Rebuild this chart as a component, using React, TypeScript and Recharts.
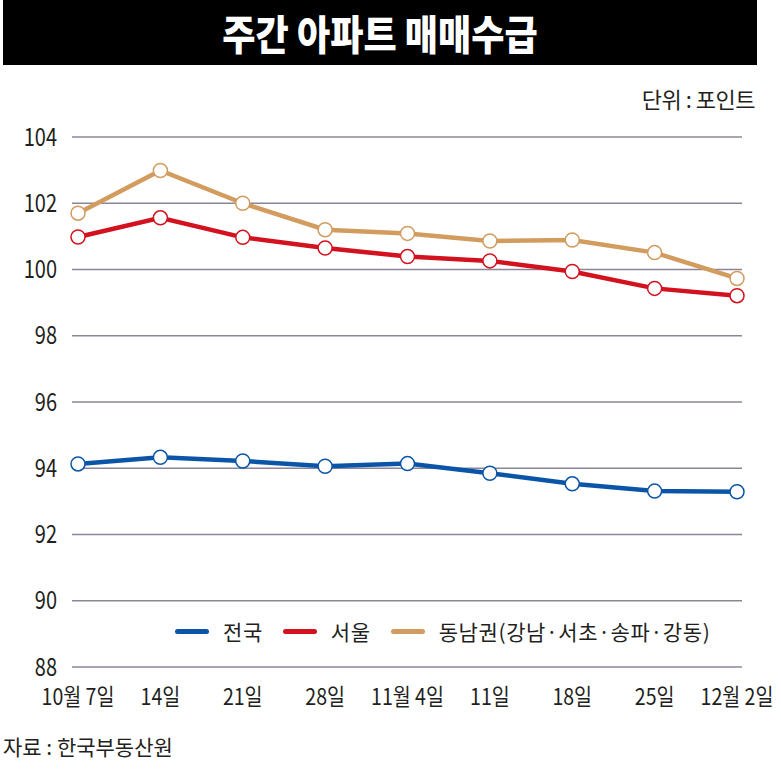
import { CartesianGrid, Line, LineChart, XAxis, YAxis } from "recharts";

const WEEKS = ["10월 7일", "14일", "21일", "28일", "11월 4일", "11일", "18일", "25일", "12월 2일"];
const NATION = [94.13, 94.33, 94.22, 94.06, 94.14, 93.85, 93.53, 93.31, 93.29];
const SEOUL = [100.98, 101.56, 100.97, 100.65, 100.39, 100.26, 99.94, 99.43, 99.21];
const SOUTHEAST = [101.7, 102.99, 102.0, 101.2, 101.09, 100.86, 100.89, 100.51, 99.73];
const Y_TICKS = [88, 90, 92, 94, 96, 98, 100, 102, 104];

const SERIES = [
  { key: "nation", name: "전국", color: "#0b55a8" },
  { key: "seoul", name: "서울", color: "#d2121e" },
  { key: "southeast", name: "동남권(강남·서초·송파·강동)", color: "#d29c5e" },
];

const data = WEEKS.map((week, i) => ({
  week,
  nation: NATION[i],
  seoul: SEOUL[i],
  southeast: SOUTHEAST[i],
}));

const KR = "'Noto Sans CJK KR', sans-serif";
const INK = "#231f20";

// the reference uses a condensed face, so squeeze the tick text a bit
function XTick({ x, y, payload }: any) {
  return (
    <text
      transform={`translate(${x},${y}) scale(0.85,1)`}
      textAnchor="middle"
      dy="0.71em"
      fontSize={23}
      fontFamily={KR}
      fill={INK}
    >
      {payload.value}
    </text>
  );
}

function YTick({ x, y, payload }: any) {
  return (
    <text
      transform={`translate(${x},${y}) scale(0.8,1)`}
      textAnchor="end"
      dy="0.34em"
      fontSize={25}
      fontFamily={KR}
      fill={INK}
    >
      {payload.value}
    </text>
  );
}

function LegendRow() {
  return (
    <div
      style={{
        display: "flex",
        alignItems: "center",
        fontFamily: KR,
        fontSize: 21,
        letterSpacing: 0.6,
        color: INK,
      }}
    >
      {SERIES.map((s) => (
        <div key={s.key} style={{ display: "flex", alignItems: "center", marginRight: 20 }}>
          <span
            style={{
              display: "inline-block",
              width: 34,
              height: 5,
              borderRadius: 3,
              background: s.color,
              marginRight: 14,
            }}
          />
          <span>{s.name}</span>
        </div>
      ))}
    </div>
  );
}

export default function App() {
  return (
    <div style={{ position: "absolute", left: 0, top: 0, width: 781, height: 775, background: "#fff" }}>
      <div
        style={{
          position: "absolute",
          left: 3,
          top: 0,
          width: 754,
          height: 65,
          background: "#000",
        }}
      />
      <div
        style={{
          position: "absolute",
          left: 3,
          top: 0,
          width: 754,
          height: 65,
          color: "#fff",
          fontFamily: KR,
          fontWeight: 900,
          fontSize: 41,
          display: "flex",
          alignItems: "center",
          justifyContent: "center",
          lineHeight: 1,
          transform: "scale(0.88,1)",
        }}
      >
        주간 아파트 매매수급
      </div>
      <div
        style={{
          position: "absolute",
          right: 26,
          top: 82,
          fontFamily: KR,
          fontSize: 22,
          color: INK,
          letterSpacing: -0.5,
        }}
      >
        단위 : 포인트
      </div>

      <div style={{ position: "absolute", left: 0, top: 0 }}>
        <LineChart
          width={781}
          height={775}
          data={data}
          margin={{ top: 137, right: 39, bottom: 68, left: 12 }}
        >
          <CartesianGrid horizontal vertical={false} stroke="#8c8498" strokeWidth={1.5} />
          <XAxis
            dataKey="week"
            axisLine={false}
            tickLine={false}
            tickSize={0}
            tickMargin={22}
            height={40}
            interval={0}
            padding={{ left: 6, right: 5 }}
            tick={<XTick />}
          />
          <YAxis
            domain={[88, 104]}
            ticks={Y_TICKS}
            axisLine={false}
            tickLine={false}
            tickSize={0}
            tickMargin={15}
            width={60}
            tick={<YTick />}
          />
          {SERIES.map((s) => (
            <Line
              key={s.key}
              type="linear"
              dataKey={s.key}
              name={s.name}
              stroke={s.color}
              strokeWidth={4.5}
              dot={{ r: 7, fill: "#fff", stroke: s.color, strokeWidth: 1.5 }}
              isAnimationActive={false}
            />
          ))}
        </LineChart>
      </div>

      <div style={{ position: "absolute", left: 175, top: 616 }}>
        <LegendRow />
      </div>

      <div
        style={{
          position: "absolute",
          left: 3,
          top: 731,
          fontFamily: KR,
          fontSize: 21,
          color: INK,
        }}
      >
        자료 : 한국부동산원
      </div>
    </div>
  );
}
